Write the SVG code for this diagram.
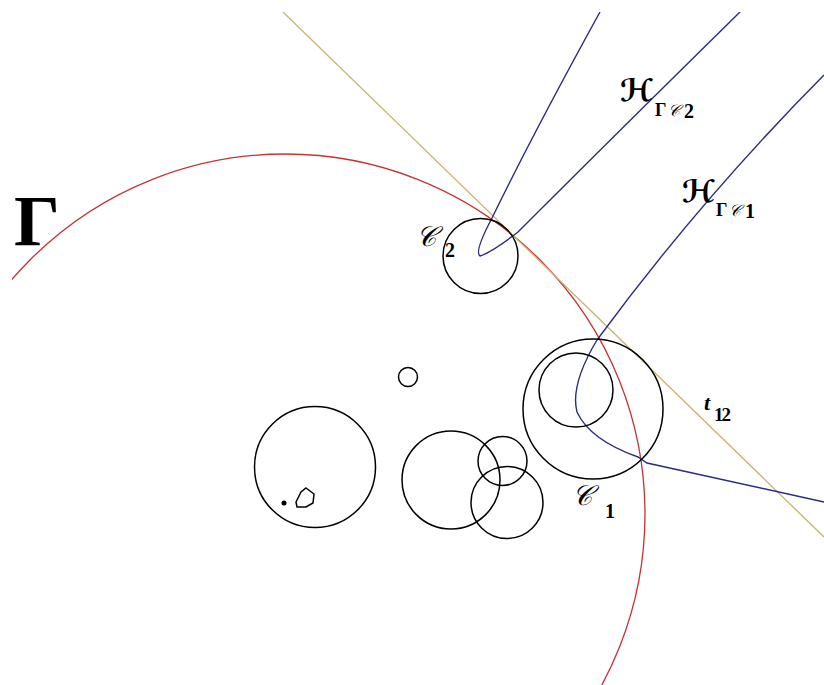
<svg xmlns="http://www.w3.org/2000/svg" width="824" height="685" viewBox="0 0 824 685">
<style>
.c{fill:none;stroke:#000;stroke-width:1.5}
.h{fill:none;stroke:#2b2b85;stroke-width:1.4}
.sc{font-family:"DejaVu Serif","DejaVu Sans",serif;font-style:italic;fill:#000}
.b{font-family:"Liberation Serif",serif;font-weight:bold;fill:#000}
</style>
<defs><clipPath id="win"><rect x="12" y="12" width="812" height="673"/></clipPath></defs>
<rect width="824" height="685" fill="#fff"/>
<g id="connectors" clip-path="url(#win)">
<circle id="gamma-circle" cx="285" cy="514" r="360" fill="none" stroke="#c83232" stroke-width="1.3"/>
<line id="t12" x1="283" y1="12" x2="824" y2="537" stroke="#c8b46e" stroke-width="1.3"/>
<path id="H2" class="h" d="M600 12 Q535 130 492 218 Q474 252 480 256 Q492 252 518 232 Q620 130 740 12"/>
<path id="H1" class="h" d="M824 75 Q700 200 597 340 Q570 385 577 412 Q590 440 638 457 L647 463 L824 502"/>
</g>
<g id="C2"><circle class="c" cx="480.5" cy="256" r="37.5"/></g>
<g id="C1"><circle class="c" cx="593" cy="409" r="70"/></g>
<g id="C1-inner"><circle class="c" cx="576" cy="390" r="37"/></g>
<g id="small"><circle class="c" cx="408" cy="377" r="9.5"/></g>
<g id="left"><circle class="c" cx="315" cy="467" r="60.5"/>
<circle cx="284" cy="503" r="2.5" fill="#000"/>
<path class="c" stroke-width="2.2" d="M306 488 L314 494 L313 503 L306 507 L297 507 L296 502 L301 492 Z"/></g>
<g id="mid1"><circle class="c" cx="451" cy="480" r="49"/></g>
<g id="mid2"><circle class="c" cx="502.5" cy="461" r="24.5"/></g>
<g id="mid3"><circle class="c" cx="507" cy="502.5" r="36"/></g>
<g id="labels">
<text class="b" x="14" y="245" font-size="72">Γ</text>
<text class="sc" x="416" y="246" font-size="28">𝒞</text>
<text class="b" x="445" y="257" font-size="20">2</text>
<text class="sc" x="572" y="505" font-size="28">𝒞</text>
<text class="b" x="605" y="518" font-size="20">1</text>
<text class="sc" x="620" y="101" font-size="31" font-weight="bold">ℋ</text>
<text class="b" x="655" y="116" font-size="18">Γ</text>
<text class="sc" x="668" y="116" font-size="16">𝒞</text>
<text class="b" x="684" y="118" font-size="20">2</text>
<text class="sc" x="682" y="202" font-size="31" font-weight="bold">ℋ</text>
<text class="b" x="716" y="216" font-size="18">Γ</text>
<text class="sc" x="729" y="216" font-size="16">𝒞</text>
<text class="b" x="745" y="218" font-size="20">1</text>
<text class="b" x="704" y="410" font-size="22" font-style="italic">t</text>
<text class="b" x="714" y="421" font-size="19" letter-spacing="-2">12</text>
</g>
</svg>
